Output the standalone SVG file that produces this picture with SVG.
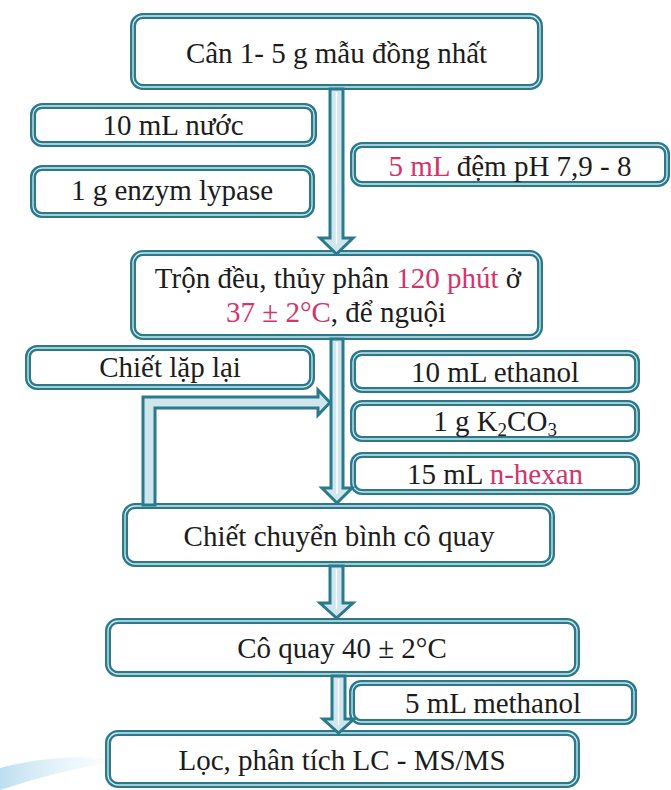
<svg xmlns="http://www.w3.org/2000/svg" width="671" height="790" viewBox="0 0 671 790">
<defs>
<style>
.box{fill:#fff;stroke:#2b7a8b;stroke-width:6}
.inner{fill:none;stroke:#cfe8ee;stroke-width:1.3}
.t{font-family:"Liberation Serif","Times New Roman",serif;font-size:29px;fill:#1c1c1c;text-anchor:middle}
.p{fill:#d4346c}
.arr{fill:#cfe6ec;stroke:#2b7a8b;stroke-width:3;stroke-linejoin:miter}
.hl{stroke:#ffffff;stroke-width:1.5}
</style>
<linearGradient id="sw" x1="0" y1="0" x2="1" y2="0">
<stop offset="0" stop-color="#9fd0ea" stop-opacity="0.7"/>
<stop offset="1" stop-color="#d8eef8" stop-opacity="0"/>
</linearGradient>
</defs>
<rect width="671" height="790" fill="#ffffff"/>
<path d="M0,768 Q60,752 125,760 Q60,770 0,790 Z" fill="url(#sw)"/>

<g id="n1"><rect class="box" x="133" y="16" width="407" height="71" rx="10"/><rect class="inner" x="133" y="16" width="407" height="71" rx="10"/><text class="t" x="336.5" y="63">Cân 1- 5 g mẫu đồng nhất</text></g>
<g id="n2"><rect class="box" x="33" y="106" width="281" height="38" rx="9"/><rect class="inner" x="33" y="106" width="281" height="38" rx="9"/><text class="t" x="173" y="135">10 mL nước</text></g>
<g id="n3"><rect class="box" x="33" y="168" width="279" height="47" rx="9"/><rect class="inner" x="33" y="168" width="279" height="47" rx="9"/><text class="t" x="172" y="200">1 g enzym lypase</text></g>
<g id="n4"><rect class="box" x="353" y="145" width="314" height="39" rx="9"/><rect class="inner" x="353" y="145" width="314" height="39" rx="9"/><text class="t" x="510" y="176"><tspan class="p">5 mL</tspan> đệm pH 7,9 - 8</text></g>
<g id="n5"><rect class="box" x="133" y="253" width="407" height="84" rx="10"/><rect class="inner" x="133" y="253" width="407" height="84" rx="10"/><text class="t" x="338" y="288">Trộn đều, thủy phân <tspan class="p">120 phút</tspan> ở</text><text class="t" x="336" y="322"><tspan class="p">37 ± 2°C</tspan>, để nguội</text></g>
<g id="n6"><rect class="box" x="28" y="348" width="284" height="39" rx="9"/><rect class="inner" x="28" y="348" width="284" height="39" rx="9"/><text class="t" x="170" y="377">Chiết lặp lại</text></g>
<g id="n7"><rect class="box" x="353" y="353" width="284" height="37" rx="9"/><rect class="inner" x="353" y="353" width="284" height="37" rx="9"/><text class="t" x="495" y="382">10 mL ethanol</text></g>
<g id="n8"><rect class="box" x="353" y="403" width="284" height="36" rx="9"/><rect class="inner" x="353" y="403" width="284" height="36" rx="9"/><text class="t" x="495" y="431">1 g K<tspan font-size="19" dy="5">2</tspan><tspan dy="-5">CO</tspan><tspan font-size="19" dy="5">3</tspan></text></g>
<g id="n9"><rect class="box" x="353" y="455" width="284" height="37" rx="9"/><rect class="inner" x="353" y="455" width="284" height="37" rx="9"/><text class="t" x="495" y="484">15 mL <tspan class="p">n-hexan</tspan></text></g>
<g id="n10"><rect class="box" x="125" y="506" width="427" height="58" rx="10"/><rect class="inner" x="125" y="506" width="427" height="58" rx="10"/><text class="t" x="339" y="546">Chiết chuyển bình cô quay</text></g>
<g id="n11"><rect class="box" x="108" y="621" width="469" height="53" rx="10"/><rect class="inner" x="108" y="621" width="469" height="53" rx="10"/><text class="t" x="342" y="658">Cô quay 40 ± 2°C</text></g>
<g id="n12"><rect class="box" x="352" y="683" width="282" height="39" rx="9"/><rect class="inner" x="352" y="683" width="282" height="39" rx="9"/><text class="t" x="493" y="713">5 mL methanol</text></g>
<g id="n13"><rect class="box" x="108" y="733" width="469" height="52" rx="10"/><rect class="inner" x="108" y="733" width="469" height="52" rx="10"/><text class="t" x="342" y="770">Lọc, phân tích LC - MS/MS</text></g>

<g id="connectors">
<polygon class="arr" points="330,89 343,89 343,238 353,238 336.5,254 320,238 330,238"/>
<line class="hl" x1="336.5" y1="92" x2="336.5" y2="244"/>
<polygon class="arr" points="331,339 343,339 343,488 352,488 337,503 322,488 331,488"/>
<line class="hl" x1="337" y1="342" x2="337" y2="494"/>
<polygon class="arr" points="143,505 143,397 318,397 318,390 330,402.5 318,415 318,408 155,408 155,505"/>
<polygon class="arr" points="330,566 343,566 343,603 353,603 336.5,618 320,603 330,603"/>
<line class="hl" x1="336.5" y1="569" x2="336.5" y2="609"/>
<polygon class="arr" points="332,676 345,676 345,719 354,719 338.5,733 323,719 332,719"/>
<line class="hl" x1="338.5" y1="679" x2="338.5" y2="725"/>
</g>
</svg>
